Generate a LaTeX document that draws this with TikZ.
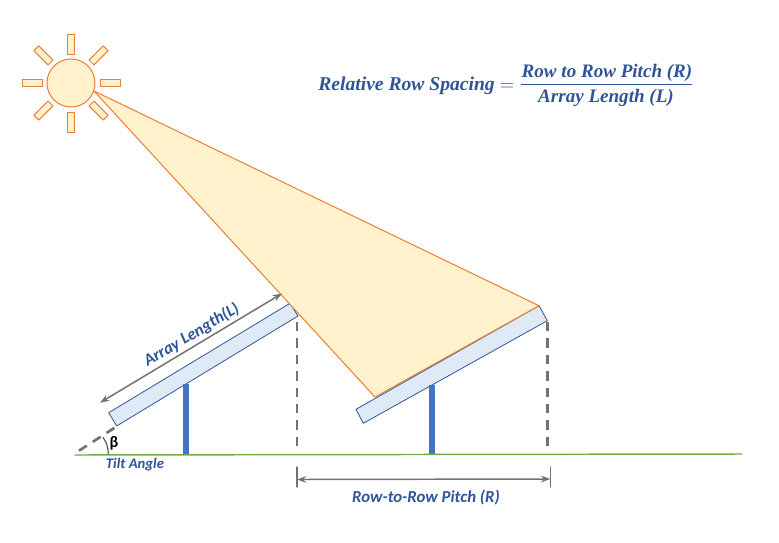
\documentclass[tikz,border=0pt]{standalone}
\usepackage{amsmath}
\usepackage{fontspec}
\usetikzlibrary{arrows.meta}
\setsansfont{Carlito}
\newfontfamily\formulafont{Liberation Serif}
\definecolor{sunorange}{HTML}{ED7D31}
\definecolor{sunfill}{HTML}{FFF2CC}
\definecolor{panelfill}{HTML}{DEEAF6}
\definecolor{panelblue}{HTML}{2F5597}
\definecolor{postblue}{HTML}{4472C4}
\definecolor{groundgreen}{HTML}{70AD47}
\definecolor{dimgray}{HTML}{767171}
\tikzset{
  sunpart/.style={draw=sunorange,fill=sunfill,line width=.75pt},
  panel/.style={draw=panelblue,fill=panelfill,line width=.6pt},
  post/.style={draw=postblue,line cap=butt},
  dashline/.style={draw=dimgray,line width=2pt,line cap=butt,dash pattern=on 7pt off 5.3pt},
  dimline/.style={draw=dimgray,line width=1.1pt},
  bluelabel/.style={text=panelblue,font=\sffamily\bfseries\itshape\fontsize{12.6}{14}\selectfont},
  formula/.style={text=panelblue,font=\formulafont\bfseries\itshape\fontsize{14.3}{16}\selectfont},
}
\begin{document}
\begin{tikzpicture}[line cap=round,line join=round,>={Stealth[length=7pt,width=5pt]},x=.75pt,y=-.75pt]
\useasboundingbox (0,0) rectangle (779,543);
% sun
\foreach \a in {0,45,...,315}
\draw[sunpart,shift={(71,83)},rotate=\a] (29,-3.5) rectangle (49,3.5);
\node[sunpart,circle,minimum size=36pt,inner sep=0pt] (sun) at (71,83) {};
% panels
\draw[panel] (108.7,412.7) -- (116.7,426) -- (298,316) -- (290,303.3) -- cycle;
\draw[panel] (356,409.3) -- (363.3,423.3) -- (547.3,320.7) -- (539,305.7) -- cycle;
% sun beam
\coordinate (beamtop) at (94,91);
\coordinate (beamright) at (539,305.7);
\coordinate (beamleft) at (375,397);
\draw[sunpart] (beamtop) -- (beamright) -- (beamleft) -- cycle;
% posts
\draw[post,line width=3.8pt] (186,384) -- (186,455);
\draw[post,line width=4.2pt] (432,385) -- (432,455);
% dashed helpers
\draw[dashline] (297,322) -- (297,450);
\draw[dashline] (547.5,322) -- (547.5,450);
\draw[dashline] (79,450.7) -- (115,427.5);
% ground
\draw[draw=groundgreen,line width=1.1pt] (75,455) -- (742,454);
% array length arrow
\coordinate (lenstart) at (100,402.7);
\coordinate (lenend) at (282,293.5);
\draw[dimline,<->] (lenstart) -- (lenend);
\node[bluelabel,rotate=31] (lenlabel) at (191.7,335) {Array Length(L)};
% tilt angle
\draw[line width=.9pt,black!65] (108.3,453.5) arc (0:-36:27);
\node[font=\sffamily\bfseries\fontsize{12}{14}\selectfont] (beta) at (114,443) {β};
\node[bluelabel,font=\sffamily\bfseries\itshape\fontsize{11}{12}\selectfont] (tilt) at (135,464.5) {Tilt Angle};
% pitch
\coordinate (pitchleft) at (297,479.5);
\coordinate (pitchright) at (550.3,479);
\draw[dimline] (297,467) -- (297,487);
\draw[dimline] (550.3,467) -- (550.3,487);
\draw[dimline,<->] (pitchleft) -- (pitchright);
\node[bluelabel] (pitch) at (426,498) {Row-to-Row Pitch (R)};
% formula
\node[formula,anchor=east,font=\formulafont\bfseries\itshape\fontsize{14.7}{16}\selectfont] (relspacing) at (519,85.5) {Relative Row Spacing $=$};
\node[formula,inner sep=1pt] (ratiotop) at (607,72.5) {Row to Row Pitch (R)};
\node[formula,inner sep=1pt] (ratiobottom) at (606,97.5) {Array Length (L)};
\coordinate (barleft) at (521,84);
\coordinate (barright) at (692,84);
\draw[panelblue,line width=.6pt] (barleft) -- (barright);
\end{tikzpicture}
\end{document}
